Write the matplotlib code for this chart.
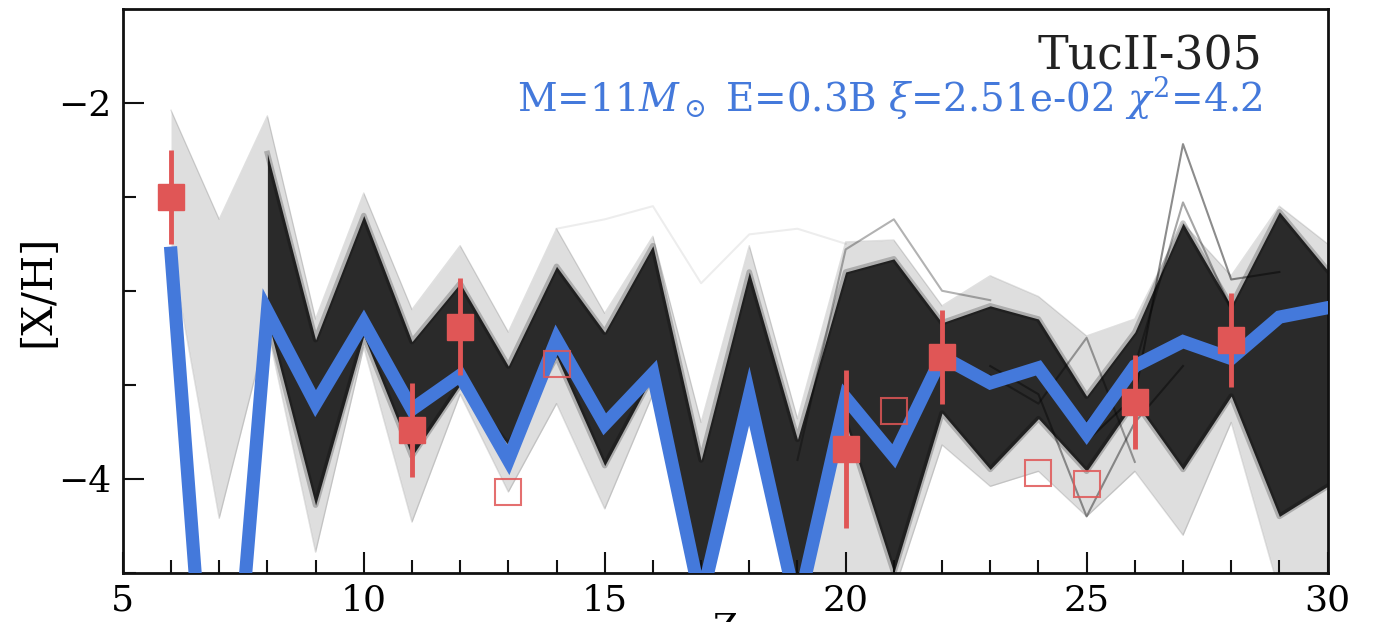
import numpy as np
import matplotlib
matplotlib.use("Agg")
import matplotlib.pyplot as plt

plt.rcParams['font.family'] = ['DejaVu Serif']
plt.rcParams['mathtext.fontset'] = 'dejavuserif'

# atomic number
z = np.arange(6, 31)

# best fitting yield model
best_model = [-2.80, -6.20, -3.11, -3.60, -3.17, -3.63, -3.45, -3.90, -3.26, -3.71,
              -3.44, -4.65, -3.56, -4.70, -3.57, -3.88, -3.35, -3.49, -3.41, -3.76,
              -3.40, -3.27, -3.36, -3.14, -3.09]

# spread of the model ensemble: outer (sparse) and inner (dense) envelopes
outer_hi = [-2.04, -2.62, -2.07, -3.15, -2.48, -3.10, -2.76, -3.22, -2.67, -3.12,
            -2.71, -3.70, -2.76, -3.68, -2.74, -2.73, -3.08, -2.92, -3.03, -3.24,
            -3.15, -2.64, -2.92, -2.55, -2.75]
outer_lo = [-2.78, -4.21, -3.20, -4.39, -3.30, -4.23, -3.55, -4.07, -3.60, -4.16,
            -3.55, -4.60, -3.60, -4.60, -4.60, -4.60, -3.82, -4.04, -3.96, -4.20,
            -3.96, -4.30, -3.70, -4.60, -4.60]
inner_hi = [np.nan, np.nan, -2.27, -3.26, -2.60, -3.27, -2.96, -3.40, -2.87, -3.22,
            -2.76, -3.90, -2.90, -3.79, -2.90, -2.83, -3.17, -3.08, -3.15, -3.56,
            -3.22, -2.64, -3.08, -2.58, -2.89]
inner_lo = [np.nan, np.nan, -3.15, -4.14, -3.24, -3.88, -3.50, -3.82, -3.35, -3.93,
            -3.45, -4.60, -3.56, -4.60, -3.70, -4.50, -3.65, -3.95, -3.68, -3.96,
            -3.59, -3.95, -3.56, -4.20, -4.04]

# a few single ensemble members that stick out of the band
stray_z = [[25, 26, 27, 28, 29], [25, 26, 27, 28], [23, 24, 25, 26, 27],
           [23, 24, 25, 26], [14, 15, 16, 17, 18, 19, 20], [19, 20, 21, 22, 23]]
stray_val = [[-3.80, -3.56, -2.22, -2.94, -2.90], [-3.70, -3.40, -2.53, -3.10],
             [-3.40, -3.55, -4.20, -3.70, -3.40], [-3.45, -3.60, -3.25, -3.91],
             [-2.67, -2.62, -2.55, -2.96, -2.70, -2.67, -2.75],
             [-3.90, -2.78, -2.62, -3.00, -3.05]]
stray_alpha = [0.45, 0.35, 0.4, 0.35, 0.07, 0.3]

# measured abundances
obs_z = [6, 11, 12, 20, 22, 26, 28]
obs_val = [-2.50, -3.74, -3.19, -3.84, -3.35, -3.59, -3.26]
obs_err = [0.25, 0.25, 0.26, 0.42, 0.25, 0.25, 0.25]

# upper limits
lim_z = [13, 14, 21, 24, 25]
lim_val = [-4.07, -3.39, -3.64, -3.97, -4.03]

blue = '#4479db'
red = '#e05656'

fig = plt.figure(figsize=(13.8, 6.22), dpi=100)
ax = fig.add_axes([0.089, 0.079, 0.873, 0.907])

# ensemble band
ax.fill_between(z, outer_lo, outer_hi, color='k', alpha=0.13, lw=0)
ax.plot(z, outer_hi, color='k', alpha=0.12, lw=1)
ax.plot(z, outer_lo, color='k', alpha=0.12, lw=1)
ax.fill_between(z, inner_lo, inner_hi, color='#111111', alpha=0.88, lw=0)
ax.plot(z, inner_hi, color='k', alpha=0.22, lw=4)
ax.plot(z, inner_lo, color='k', alpha=0.22, lw=4)
for sz, sv, sa in zip(stray_z, stray_val, stray_alpha):
    ax.plot(sz, sv, color='k', alpha=sa, lw=1.5)

ax.plot(z, best_model, color=blue, lw=9.5, solid_joinstyle='miter', zorder=3)

ax.errorbar(obs_z, obs_val, yerr=obs_err, fmt='s', color=red, ms=19, elinewidth=3.5,
            capsize=0, zorder=4)
ax.plot(lim_z, lim_val, 's', ms=19, mfc='none', mec=red, mew=1.5, alpha=0.85, zorder=4)

ax.text(0.946, 0.893, 'TucII-305', transform=ax.transAxes, ha='right', va='baseline',
        fontsize=33, color='#222222')
ax.text(0.946, 0.818, r'M=11$M_\odot$ E=0.3B $\xi$=2.51e-02 $\chi^2$=4.2',
        transform=ax.transAxes, ha='right', va='baseline', fontsize=28, color=blue)

ax.set_xlim(5, 30)
ax.set_ylim(-4.5, -1.5)
ax.set_xticks([5, 10, 15, 20, 25, 30])
ax.set_xticks(np.arange(5, 31), minor=True)
ax.set_yticks([-2, -4])
ax.set_yticks([-4.5, -3.5, -3, -2.5], minor=True)
ax.tick_params(which='both', direction='in', top=False, right=False, width=1.5,
               labelsize=26, color='#111111')
ax.tick_params(which='major', length=15)
ax.tick_params(which='minor', length=9.5)
ax.tick_params(axis='x', pad=8)
ax.tick_params(axis='y', pad=8)
for s in ax.spines.values():
    s.set_linewidth(2)
    s.set_color('#111111')

ax.set_xlabel('Z', fontsize=26, labelpad=-4)
ax.set_ylabel('[X/H]', fontsize=30, labelpad=0)

fig.savefig('out.png', dpi=100)
